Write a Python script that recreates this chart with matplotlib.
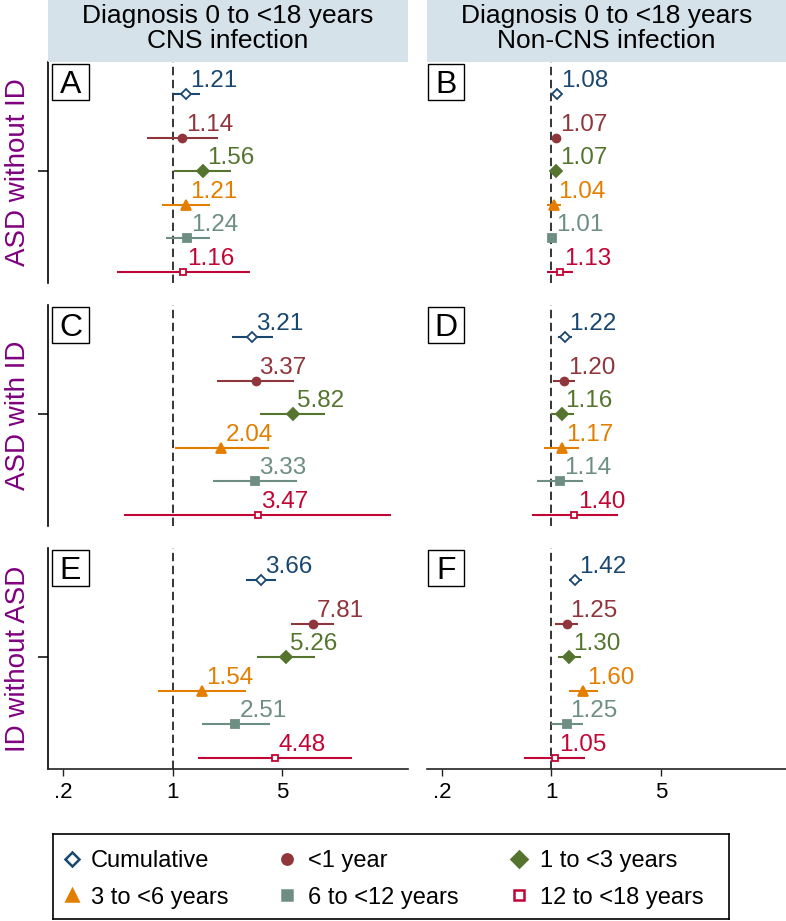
import numpy as np
import matplotlib.pyplot as plt
from matplotlib.patches import Rectangle
from matplotlib.ticker import NullLocator

plt.rcParams['font.family'] = ['Liberation Sans', 'DejaVu Sans']

# --- data ---
groups = ['Cumulative', '<1 year', '1 to <3 years', '3 to <6 years',
          '6 to <12 years', '12 to <18 years']
row_labels = ['ASD without ID', 'ASD with ID', 'ID without ASD']
col_headers = ['Diagnosis 0 to <18 years\nCNS infection',
               'Diagnosis 0 to <18 years\nNon-CNS infection']
panel_letters = ['A', 'B', 'C', 'D', 'E', 'F']

est_A = [1.21, 1.14, 1.56, 1.21, 1.24, 1.16]
lo_A = [1.00, 0.68, 1.02, 0.85, 0.90, 0.44]
hi_A = [1.48, 1.93, 2.36, 1.72, 1.73, 3.10]

est_B = [1.08, 1.07, 1.07, 1.04, 1.01, 1.13]
lo_B = [1.02, 1.03, 1.02, 0.94, 0.96, 0.93]
hi_B = [1.14, 1.11, 1.12, 1.15, 1.07, 1.37]

est_C = [3.21, 3.37, 5.82, 2.04, 3.33, 3.47]
lo_C = [2.39, 1.92, 3.62, 1.03, 1.80, 0.49]
hi_C = [4.36, 5.96, 9.38, 4.09, 6.20, 24.5]

est_D = [1.22, 1.20, 1.16, 1.17, 1.14, 1.40]
lo_D = [1.10, 1.02, 0.99, 0.90, 0.81, 0.75]
hi_D = [1.36, 1.41, 1.39, 1.51, 1.60, 2.65]

est_E = [3.66, 7.81, 5.26, 1.54, 2.51, 4.48]
lo_E = [2.94, 5.68, 3.42, 0.81, 1.53, 1.45]
hi_E = [4.58, 10.7, 8.10, 2.95, 4.15, 13.9]

est_F = [1.42, 1.25, 1.30, 1.60, 1.25, 1.05]
lo_F = [1.30, 1.06, 1.10, 1.30, 1.00, 0.67]
hi_F = [1.56, 1.48, 1.55, 1.97, 1.59, 1.65]

panels = [(est_A, lo_A, hi_A), (est_B, lo_B, hi_B),
          (est_C, lo_C, hi_C), (est_D, lo_D, hi_D),
          (est_E, lo_E, hi_E), (est_F, lo_F, hi_F)]

# --- styling ---
colors = ['#1a476f', '#90353b', '#55752f', '#e37e00', '#6e8e84', '#c10534']
markers = ['D', 'o', 'D', '^', 's', 's']
filled = [False, True, True, True, True, False]
msizes = [5.3, 5.7, 6.2, 6.8, 5.7, 5.0]
row_y = [6.3, 5, 4, 3, 2, 1]

W, H = 786, 921
fig = plt.figure(figsize=(W / 100, H / 100), dpi=100)


def fx(x):
    return x / W


def fy(y):
    return 1 - y / H


panel_rows = [(62, 283), (305, 526), (548, 769)]
panel_cols = [(48, 408), (427, 786)]

# column headers
for c, (x0, x1) in enumerate(panel_cols):
    fig.add_artist(Rectangle((fx(x0), fy(62)), (x1 - x0) / W, 62 / H,
                             transform=fig.transFigure, fc='#d6e2e9', ec='none'))
    l1, l2 = col_headers[c].split('\n')
    xc = (x0 + x1) / 2
    fig.text(fx(xc), fy(23.5), l1, ha='center', va='baseline', fontsize=19)
    fig.text(fx(xc), fy(48.5), l2, ha='center', va='baseline', fontsize=19)

for r, (y0, y1) in enumerate(panel_rows):
    # row label
    fig.text(fx(18), fy((y0 + y1) / 2), row_labels[r], rotation=90,
             ha='center', va='center', color='#800080', fontsize=20)
    for c, (x0, x1) in enumerate(panel_cols):
        k = r * 2 + c
        ax = fig.add_axes([fx(x0), fy(y1), (x1 - x0) / W, (y1 - y0) / H])
        ax.set_xscale('log')
        ax.set_xlim(0.16, 31.6)
        ax.set_ylim(0.67, 7.27)
        ax.patch.set_alpha(0)
        for s in ax.spines.values():
            s.set_visible(False)
        ax.xaxis.set_minor_locator(NullLocator())

        if c == 0:
            ax.spines['left'].set_visible(True)
            ax.spines['left'].set_linewidth(1.2)
            ax.set_yticks([4])
            ax.set_yticklabels([''])
            ax.tick_params(axis='y', length=7, width=1.1)
        else:
            ax.set_yticks([])

        if r == 2:
            ax.spines['bottom'].set_visible(True)
            ax.spines['bottom'].set_linewidth(1.2)
            ax.spines['bottom'].set_color('#222222')
            ax.set_xticks([0.2, 1, 5])
            ax.set_xticklabels(['.2', '1', '5'])
            ax.tick_params(axis='x', length=5, width=1.0, pad=4,
                           labelsize=16, color='#222222')
        else:
            ax.set_xticks([])

        ax.axvline(1, color='black', lw=1.1, ls=(0, (5.5, 3)), zorder=1)

        est, lo, hi = panels[k]
        for i in range(len(groups)):
            ax.plot([lo[i], hi[i]], [row_y[i], row_y[i]], color=colors[i],
                    lw=1.5, solid_capstyle='butt', zorder=2)
            ax.plot(est[i], row_y[i], marker=markers[i], ms=msizes[i],
                    mfc=colors[i] if filled[i] else 'white',
                    mec=colors[i], mew=1.3, ls='none', zorder=3)
            ax.annotate(f'{est[i]:.2f}', (est[i], row_y[i]), xytext=(4, 7),
                        textcoords='offset pixels', ha='left', va='baseline',
                        fontsize=17.5, color=colors[i], zorder=4)

        # panel letter box
        bx = x0 + 4 if c == 0 else x0 + 0.5
        by = y0 + 2
        fig.add_artist(Rectangle((fx(bx), fy(by + 36)), 37 / W, 36 / H,
                                 transform=fig.transFigure, fill=False,
                                 ec='black', lw=1.0))
        fig.text(fx(bx + 18.5), fy(by + 29), panel_letters[k], ha='center',
                 va='baseline', fontsize=23)

# legend box drawn in pixel coordinates
lx0, ly0, lx1, ly1 = 53, 834, 729, 919
axl = fig.add_axes([fx(lx0), fy(ly1), (lx1 - lx0) / W, (ly1 - ly0) / H])
axl.set_xlim(lx0, lx1)
axl.set_ylim(ly1, ly0)
axl.set_xticks([])
axl.set_yticks([])
for s in axl.spines.values():
    s.set_linewidth(1.2)
leg_mx = [71.7, 286.7, 519]
leg_tx = [91, 308, 540.5]
leg_my = [859, 895]
leg_ty = [867, 903.5]
for i, g in enumerate(groups):
    rr, cc = divmod(i, 3)
    axl.plot(leg_mx[cc], leg_my[rr], marker=markers[i], ms=msizes[i] * 1.3,
             mfc=colors[i] if filled[i] else 'white', mec=colors[i],
             mew=1.8, ls='none')
    axl.text(leg_tx[cc], leg_ty[rr], g, ha='left', va='baseline', fontsize=17)

fig.savefig('out.png', dpi=100)
